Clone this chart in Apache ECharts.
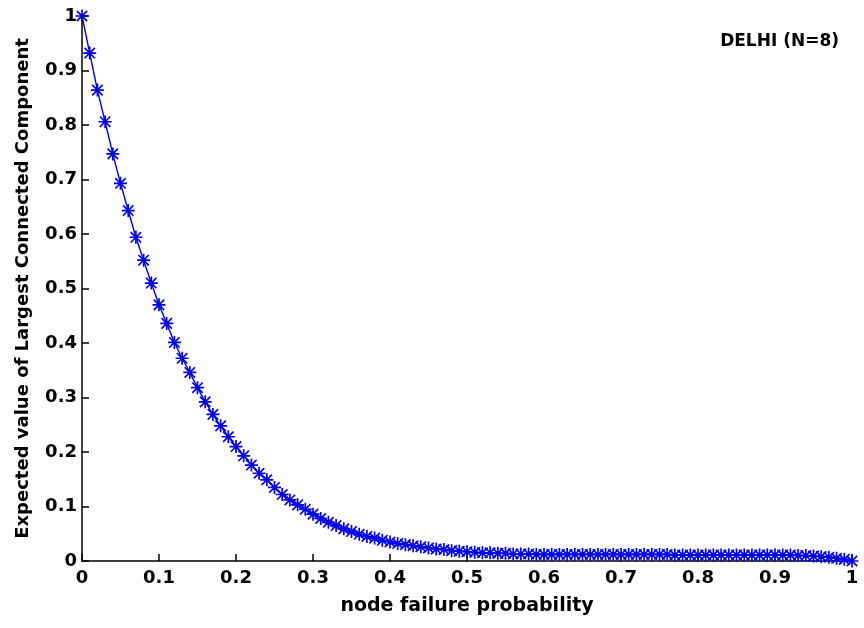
<!DOCTYPE html>
<html>
<head>
<meta charset="utf-8">
<title>DELHI (N=8)</title>
<script src="https://cdn.jsdelivr.net/npm/echarts@6/dist/echarts.min.js"></script>
<style>
    html, body { margin: 0; padding: 0; background: #fff; }
    #chart { width: 864px; height: 628px; }
</style>
</head>
<body>
<div id="chart"></div>
<script>
// node failure probability, sampled every 0.01
const failureProb = [
    0.00, 0.01, 0.02, 0.03, 0.04, 0.05, 0.06, 0.07, 0.08, 0.09,
    0.10, 0.11, 0.12, 0.13, 0.14, 0.15, 0.16, 0.17, 0.18, 0.19,
    0.20, 0.21, 0.22, 0.23, 0.24, 0.25, 0.26, 0.27, 0.28, 0.29,
    0.30, 0.31, 0.32, 0.33, 0.34, 0.35, 0.36, 0.37, 0.38, 0.39,
    0.40, 0.41, 0.42, 0.43, 0.44, 0.45, 0.46, 0.47, 0.48, 0.49,
    0.50, 0.51, 0.52, 0.53, 0.54, 0.55, 0.56, 0.57, 0.58, 0.59,
    0.60, 0.61, 0.62, 0.63, 0.64, 0.65, 0.66, 0.67, 0.68, 0.69,
    0.70, 0.71, 0.72, 0.73, 0.74, 0.75, 0.76, 0.77, 0.78, 0.79,
    0.80, 0.81, 0.82, 0.83, 0.84, 0.85, 0.86, 0.87, 0.88, 0.89,
    0.90, 0.91, 0.92, 0.93, 0.94, 0.95, 0.96, 0.97, 0.98, 0.99,
    1.00
];

// expected value of the largest connected component
const largestComponent = [
    1.000, 0.932, 0.864, 0.806, 0.747, 0.693, 0.643, 0.594, 0.552, 0.510,
    0.470, 0.436, 0.401, 0.372, 0.346, 0.318, 0.292, 0.269, 0.248, 0.228,
    0.210, 0.193, 0.176, 0.161, 0.149, 0.135, 0.122, 0.112, 0.103, 0.095,
    0.086, 0.078, 0.071, 0.065, 0.059, 0.054, 0.049, 0.045, 0.042, 0.038,
    0.035, 0.032, 0.030, 0.028, 0.026, 0.024, 0.022, 0.021, 0.019, 0.018,
    0.017, 0.016, 0.015, 0.015, 0.014, 0.014, 0.013, 0.013, 0.013, 0.012,
    0.012, 0.012, 0.012, 0.012, 0.012, 0.012, 0.012, 0.012, 0.012, 0.012,
    0.012, 0.012, 0.012, 0.012, 0.012, 0.012, 0.012, 0.011, 0.011, 0.011,
    0.011, 0.011, 0.011, 0.011, 0.011, 0.011, 0.011, 0.011, 0.011, 0.011,
    0.011, 0.011, 0.011, 0.010, 0.010, 0.009, 0.008, 0.007, 0.005, 0.003,
    0.000
];

const xTickLabels = ['0', '0.1', '0.2', '0.3', '0.4', '0.5', '0.6', '0.7', '0.8', '0.9', '1'];
const yTickLabels = ['0', '0.1', '0.2', '0.3', '0.4', '0.5', '0.6', '0.7', '0.8', '0.9', '1'];

// matlab style '*' marker: plus and cross drawn as thin bars
const asterisk = 'path://M8.7,0H11.3V20H8.7Z M0,8.7H20V11.3H0Z ' +
    'M2.9,1.1L18.9,17.1L17.1,18.9L1.1,2.9Z M17.1,1.1L18.9,2.9L2.9,18.9L1.1,17.1Z';

const font = 'DejaVu Sans';
const blue = '#0000ee';

const chart = echarts.init(document.getElementById('chart'), null, { renderer: 'canvas' });

const axisCommon = {
    type: 'value',
    min: 0,
    max: 1,
    interval: 0.1,
    nameLocation: 'middle',
    nameTextStyle: { fontFamily: font, fontWeight: 'bold', fontSize: 18, color: '#000' },
    axisLine: { show: true, onZero: false, lineStyle: { color: '#000', width: 1.5 } },
    axisTick: { show: true, inside: true, length: 7, lineStyle: { color: '#000', width: 1.5 } },
    splitLine: { show: false },
    axisLabel: { fontFamily: font, fontWeight: 'bold', fontSize: 18, color: '#000' }
};

chart.setOption({
    animation: false,
    backgroundColor: '#fff',
    title: {
        text: 'DELHI (N=8)',
        right: 20,
        top: 28,
        textStyle: { fontFamily: font, fontWeight: 'bold', fontSize: 17, color: '#000' }
    },
    grid: { left: 82, right: 12, top: 16, bottom: 67, outerBoundsMode: 'none' },
    xAxis: Object.assign({}, axisCommon, {
        name: 'node failure probability',
        nameGap: 36,
        nameTextStyle: Object.assign({}, axisCommon.nameTextStyle, { fontSize: 19 }),
        axisLabel: Object.assign({}, axisCommon.axisLabel, {
            margin: 8,
            formatter: (v) => xTickLabels[Math.round(v * 10)]
        })
    }),
    yAxis: Object.assign({}, axisCommon, {
        name: 'Expected value of Largest Connected Component',
        nameGap: 50,
        axisLabel: Object.assign({}, axisCommon.axisLabel, {
            margin: 5,
            formatter: (v) => yTickLabels[Math.round(v * 10)]
        })
    }),
    series: [{
        type: 'line',
        data: failureProb.map((p, i) => [p, largestComponent[i]]),
        showAllSymbol: true,
        symbol: asterisk,
        symbolSize: 13,
        lineStyle: { color: blue, width: 1.4 },
        itemStyle: { color: blue },
        clip: false
    }]
});
</script>
</body>
</html>
